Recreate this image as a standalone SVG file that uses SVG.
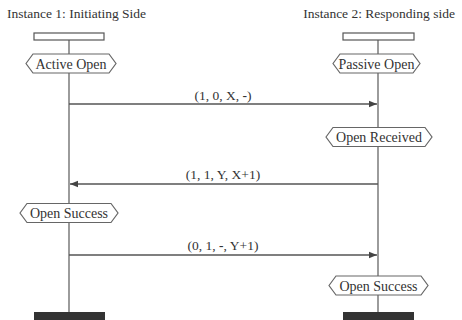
<svg xmlns="http://www.w3.org/2000/svg" width="462" height="320" viewBox="0 0 462 320">
<style>
text{font-family:'Liberation Serif',serif;font-size:13.5px;fill:#333}
text.hl{font-size:14px}
.life{stroke:#666;stroke-width:1.3;fill:none}
.head{fill:#fff;stroke:#555;stroke-width:1.2}
.hex{fill:#fff;stroke:#666;stroke-width:1.2}
.bar{fill:#333}
.msg{stroke:#555;stroke-width:1.3;fill:none;marker-end:url(#ah)}
</style>
<defs>
<marker id="ah" viewBox="0 0 10 10" refX="10" refY="5" markerWidth="8" markerHeight="8" markerUnits="userSpaceOnUse" orient="auto">
<path d="M0,1 L10,5 L0,9 Z" fill="#444"/>
</marker>
</defs>
<g id="instance1">
<text x="7" y="18" font-family="Liberation Serif">Instance 1: Initiating Side</text>
<line class="life" x1="69" y1="40" x2="69" y2="312"/>
<rect class="head" x="34" y="33" width="70" height="7"/>
<rect class="bar" x="34" y="312" width="71" height="8"/>
</g>
<g id="instance2">
<text x="455" y="18" text-anchor="end" font-family="Liberation Serif">Instance 2: Responding side</text>
<line class="life" x1="378" y1="40" x2="378" y2="312"/>
<rect class="head" x="343" y="33" width="71" height="7"/>
<rect class="bar" x="343" y="312" width="71" height="8"/>
</g>
<g id="active-open">
<path class="hex" d="M26,63.5 L33,54 L109,54 L116,63.5 L109,73 L33,73 Z"/>
<text class="hl" x="71" y="68.5" text-anchor="middle" font-family="Liberation Serif">Active Open</text>
</g>
<g id="passive-open">
<path class="hex" d="M333,63.5 L340,54 L413,54 L420,63.5 L413,73 L340,73 Z"/>
<text class="hl" x="376.5" y="68.5" text-anchor="middle" font-family="Liberation Serif">Passive Open</text>
</g>
<g id="open-received">
<path class="hex" d="M326,137 L333,127.5 L425,127.5 L432,137 L425,146.5 L333,146.5 Z"/>
<text class="hl" x="379" y="142" text-anchor="middle" font-family="Liberation Serif">Open Received</text>
</g>
<g id="open-success-1">
<path class="hex" d="M20,213 L27,203.5 L111,203.5 L118,213 L111,222.5 L27,222.5 Z"/>
<text class="hl" x="69" y="218" text-anchor="middle" font-family="Liberation Serif">Open Success</text>
</g>
<g id="open-success-2">
<path class="hex" d="M329,285.5 L336,276 L421,276 L428,285.5 L421,295 L336,295 Z"/>
<text class="hl" x="378.5" y="290.5" text-anchor="middle" font-family="Liberation Serif">Open Success</text>
</g>
<g id="connectors">
<line class="msg" x1="69" y1="104" x2="377" y2="104"/>
<text x="223" y="100" text-anchor="middle" font-family="Liberation Serif">(1, 0, X, <tspan font-weight="bold">-</tspan>)</text>
<line class="msg" x1="378" y1="184" x2="70" y2="184"/>
<text x="223" y="179" text-anchor="middle" font-family="Liberation Serif">(1, 1, Y, X+1)</text>
<line class="msg" x1="69" y1="255" x2="377" y2="255"/>
<text x="223" y="250" text-anchor="middle" font-family="Liberation Serif">(0, 1, <tspan font-weight="bold">-</tspan>, Y+1)</text>
</g>
</svg>
